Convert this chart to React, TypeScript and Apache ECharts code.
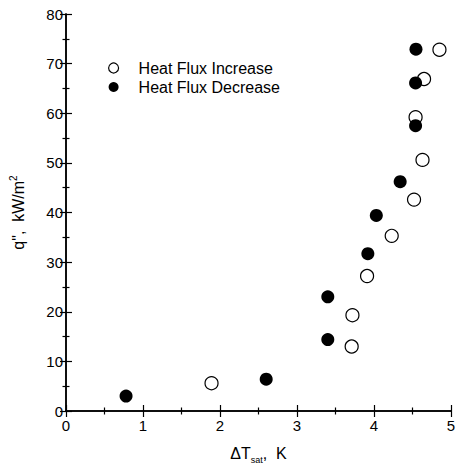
import React, { useEffect, useRef } from "react";
import * as echarts from "echarts";

const increaseX = [1.89, 3.71, 3.72, 3.91, 4.23, 4.52, 4.63, 4.54, 4.65, 4.85];
const increaseY = [5.6, 13.0, 19.3, 27.2, 35.3, 42.6, 50.6, 59.2, 66.9, 72.8];
const decreaseX = [0.78, 2.6, 3.4, 3.4, 3.92, 4.03, 4.34, 4.54, 4.54, 4.545];
const decreaseY = [3.0, 6.4, 14.4, 23.0, 31.7, 39.4, 46.2, 57.5, 66.1, 72.9];
const seriesNames = ["Heat Flux Increase", "Heat Flux Decrease"];

const FONT = "'Liberation Sans', Arial, sans-serif";

export default function App() {
  const ref = useRef<HTMLDivElement>(null);
  useEffect(() => {
    if (!ref.current) return;
    const chart = echarts.init(ref.current, undefined, { renderer: "svg" });
    const axisLine = { show: true, lineStyle: { color: "#000", width: 1.5 } };
    const axisTick = { show: true, inside: true, length: 6, lineStyle: { color: "#000", width: 1.2 } };
    const minorTick = { show: true, splitNumber: 2, length: 3.5, lineStyle: { color: "#000", width: 1.2 } };
    const label = { color: "#000", fontSize: 15, fontFamily: FONT };
    chart.setOption({
      animation: false,
      backgroundColor: "#fff",
      grid: { left: 66, right: 14, top: 14, bottom: 57 },
      legend: {
        orient: "vertical",
        left: 103,
        top: 55,
        icon: "circle",
        itemWidth: 10,
        itemHeight: 10,
        itemGap: 3,
        itemStyle: { borderWidth: 1.2 },
        textStyle: { color: "#000", fontSize: 16, fontFamily: FONT, padding: [0, 0, 0, 15] },
        data: seriesNames,
      },
      xAxis: [
        {
          type: "value",
          min: 0,
          max: 5,
          interval: 1,
          axisLine,
          axisTick,
          minorTick,
          splitLine: { show: false },
          axisLabel: { ...label, margin: 7 },
          name: "ΔT{sub|sat},  K",
          nameLocation: "middle",
          nameGap: 32,
          nameTextStyle: {
            color: "#000",
            fontSize: 16,
            fontFamily: FONT,
            rich: {
              sub: { fontSize: 9, fontFamily: FONT, color: "#000", padding: [12, 0, 0, 0] },
            },
          },
        },
        {
          type: "value",
          position: "top",
          min: 0,
          max: 5,
          interval: 1,
          axisLine,
          axisTick,
          minorTick,
          splitLine: { show: false },
          axisLabel: { show: false },
        },
      ],
      yAxis: [
        {
          type: "value",
          min: 0,
          max: 80,
          interval: 10,
          axisLine,
          axisTick,
          minorTick,
          splitLine: { show: false },
          axisLabel: { ...label, margin: 3 },
          name: "q\",  kW/m{sup|2}",
          nameLocation: "middle",
          nameRotate: 90,
          nameGap: 38,
          nameTextStyle: {
            color: "#000",
            fontSize: 16,
            fontFamily: FONT,
            rich: {
              sup: { fontSize: 10, fontFamily: FONT, color: "#000", padding: [0, 0, 10, 0] },
            },
          },
        },
        {
          type: "value",
          position: "right",
          min: 0,
          max: 80,
          interval: 10,
          axisLine,
          axisTick,
          minorTick,
          splitLine: { show: false },
          axisLabel: { show: false },
        },
      ],
      series: [
        {
          name: seriesNames[0],
          type: "scatter",
          symbol: "circle",
          symbolSize: 13,
          itemStyle: { color: "#fff", borderColor: "#000", borderWidth: 1.2, opacity: 1 },
          data: increaseX.map((x, i) => [x, increaseY[i]]),
        },
        {
          name: seriesNames[1],
          type: "scatter",
          symbol: "circle",
          symbolSize: 13,
          itemStyle: { color: "#000", opacity: 1 },
          data: decreaseX.map((x, i) => [x, decreaseY[i]]),
        },
      ],
    });
    return () => chart.dispose();
  }, []);
  return <div ref={ref} style={{ width: 465, height: 469, position: "absolute", left: 0, top: 0 }} />;
}
